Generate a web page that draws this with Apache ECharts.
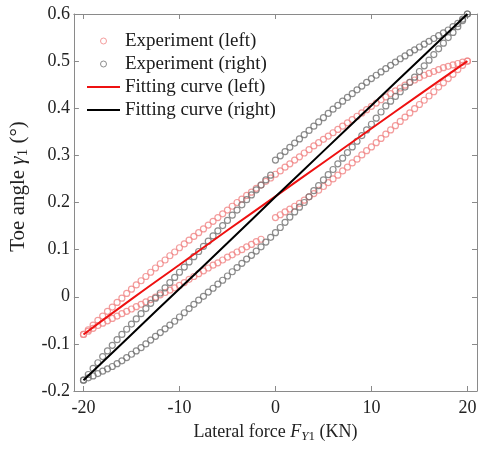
<!DOCTYPE html>
<html>
<head>
<meta charset="utf-8">
<script src="https://cdn.jsdelivr.net/npm/echarts@6/dist/echarts.min.js"></script>
<style>html,body{margin:0;padding:0;background:#fff}#chart{width:480px;height:449px}</style>
</head>
<body>
<div id="chart"></div>
<script>
// Lateral force sample positions (KN)
const forceSteps = [-20,-19.5,-19,-18.5,-18,-17.5,-17,-16.5,-16,-15.5,-15,-14.5,-14,-13.5,-13,-12.5,-12,-11.5,-11,-10.5,-10,-9.5,-9,-8.5,-8,-7.5,-7,-6.5,-6,-5.5,-5,-4.5,-4,-3.5,-3,-2.5,-2,-1.5,-1,-0.5,0,0.5,1,1.5,2,2.5,3,3.5,4,4.5,5,5.5,6,6.5,7,7.5,8,8.5,9,9.5,10,10.5,11,11.5,12,12.5,13,13.5,14,14.5,15,15.5,16,16.5,17,17.5,18,18.5,19,19.5,20];

// Experiment (left): upper (loading) and lower (unloading) branches, toe angle (deg)
const leftUpperY = [-0.08,-0.07,-0.06,-0.05,-0.041,-0.031,-0.022,-0.012,-0.003,0.007,0.016,0.025,0.034,0.043,0.052,0.061,0.07,0.078,0.087,0.095,0.104,0.112,0.12,0.128,0.136,0.144,0.152,0.16,0.168,0.176,0.184,0.192,0.2,0.207,0.215,0.222,0.23,0.237,0.245,0.252,0.26,0.267,0.275,0.282,0.29,0.297,0.305,0.312,0.32,0.327,0.334,0.341,0.348,0.355,0.362,0.369,0.376,0.383,0.39,0.397,0.404,0.411,0.418,0.424,0.431,0.437,0.443,0.449,0.455,0.46,0.465,0.47,0.474,0.478,0.482,0.486,0.489,0.492,0.495,0.498,0.5];
const leftLowerY = [-0.08,-0.073,-0.067,-0.061,-0.056,-0.051,-0.046,-0.041,-0.036,-0.031,-0.026,-0.021,-0.016,-0.011,-0.006,-0.001,0.004,0.009,0.014,0.019,0.024,0.03,0.037,0.043,0.049,0.055,0.061,0.067,0.072,0.078,0.084,0.089,0.095,0.1,0.106,0.111,0.117,0.122,null,null,0.168,0.174,0.18,0.186,0.192,0.198,0.205,0.212,0.219,0.226,0.234,0.242,0.25,0.258,0.267,0.275,0.284,0.292,0.301,0.31,0.318,0.327,0.336,0.345,0.354,0.363,0.372,0.381,0.39,0.399,0.408,0.417,0.426,0.435,0.445,0.454,0.463,0.472,0.482,0.491,0.5];

// Experiment (right): upper (loading) and lower (unloading) branches
const rightUpperY = [-0.177,-0.165,-0.152,-0.14,-0.127,-0.115,-0.103,-0.091,-0.08,-0.069,-0.058,-0.047,-0.036,-0.025,-0.014,-0.003,0.008,0.019,0.03,0.041,0.052,0.063,0.074,0.085,0.096,0.107,0.118,0.129,0.14,0.151,0.162,0.173,0.184,0.195,0.206,0.216,0.227,0.237,0.248,0.258,0.29,0.299,0.308,0.317,0.326,0.335,0.344,0.353,0.362,0.371,0.38,0.389,0.398,0.406,0.415,0.423,0.431,0.439,0.447,0.455,0.463,0.47,0.477,0.484,0.491,0.498,0.505,0.511,0.518,0.524,0.53,0.536,0.542,0.548,0.554,0.56,0.566,0.573,0.58,0.589,0.6];
const rightLowerY = [-0.177,-0.172,-0.168,-0.163,-0.158,-0.153,-0.148,-0.142,-0.136,-0.129,-0.122,-0.115,-0.108,-0.1,-0.092,-0.084,-0.076,-0.068,-0.06,-0.052,-0.043,-0.034,-0.025,-0.016,-0.007,0.001,0.01,0.018,0.027,0.035,0.044,0.053,0.062,0.071,0.08,0.088,0.097,0.106,0.116,0.126,0.136,0.147,0.158,0.169,0.18,0.19,0.2,0.212,0.225,0.236,0.248,0.259,0.27,0.282,0.294,0.306,0.318,0.33,0.342,0.354,0.366,0.379,0.392,0.405,0.415,0.425,0.435,0.445,0.455,0.466,0.478,0.49,0.502,0.514,0.526,0.538,0.55,0.561,0.573,0.586,0.6];

// Fitting curves
const fitForce = [-20,-15,-10,-5,0,5,10,15,20];
const fitLeftY = [-0.08,-0.005,0.068,0.141,0.213,0.285,0.357,0.429,0.5];
const fitRightY = [-0.177,-0.08,0.017,0.114,0.212,0.309,0.406,0.503,0.6];

// Axis ticks
const xTicks = [-20,-10,0,10,20];

const seriesNames = ['Experiment (left)','Experiment (right)','Fitting curve (left)','Fitting curve (right)'];

function pairs(xs, ys) {
  const out = [];
  for (let i = 0; i < xs.length; i++) {
    if (ys[i] !== null && ys[i] !== undefined) out.push([xs[i], ys[i]]);
  }
  return out;
}

const font = "'Liberation Serif','Times New Roman',serif";
const axisGray = '#8a8a8a';
const pink = '#f08585';
const gray = '#707070';
const redLine = '#ee1111';
const lineIcon = 'path://M0,0L33,0L33,2L0,2Z';

const chart = echarts.init(document.getElementById('chart'), null, {renderer: 'canvas'});

const baseX = {
  type: 'value', min: -21, max: 21,
  axisLine: {show: true, onZero: false, lineStyle: {color: axisGray, width: 1}},
  axisTick: {show: true, inside: true, length: 5, customValues: xTicks, lineStyle: {color: axisGray}},
  splitLine: {show: false}
};
const baseY = {
  type: 'value', min: -0.2, max: 0.6, interval: 0.1,
  axisLine: {show: true, onZero: false, lineStyle: {color: axisGray, width: 1}},
  axisTick: {show: true, inside: true, length: 5, lineStyle: {color: axisGray}},
  splitLine: {show: false}
};

const option = {
  animation: false,
  textStyle: {fontFamily: font},
  grid: {left: 73, right: 3, top: 14, bottom: 58, containLabel: false},
  legend: {
    orient: 'vertical', left: 87, top: 31, padding: 0,
    itemWidth: 33, itemHeight: 6, itemGap: 3,
    textStyle: {fontFamily: font, fontSize: 19, color: '#1a1a1a', lineHeight: 20},
    data: [
      {name: seriesNames[0], icon: 'circle', itemStyle: {color: 'rgba(0,0,0,0)', borderColor: pink, borderWidth: 1}},
      {name: seriesNames[1], icon: 'circle', itemStyle: {color: 'rgba(0,0,0,0)', borderColor: gray, borderWidth: 1}},
      {name: seriesNames[2], icon: lineIcon, itemStyle: {color: redLine, borderWidth: 0}},
      {name: seriesNames[3], icon: lineIcon, itemStyle: {color: '#000', borderWidth: 0}}
    ]
  },
  xAxis: [
    Object.assign({}, baseX, {
      position: 'bottom',
      axisLabel: {customValues: xTicks, color: '#222', fontFamily: font, fontSize: 18, margin: 8},
      name: '{n|Lateral force }{i|F}{si|Y}{s|1}{n| (KN)}',
      nameLocation: 'middle', nameGap: 30,
      nameTextStyle: {
        color: '#222', fontFamily: font, fontSize: 18,
        rich: {
          n: {fontFamily: font, fontSize: 18, color: '#222', lineHeight: 22},
          i: {fontFamily: font, fontSize: 18, color: '#222', fontStyle: 'italic', lineHeight: 22},
          si: {fontFamily: font, fontSize: 13, color: '#222', fontStyle: 'italic', lineHeight: 13, verticalAlign: 'bottom'},
          s: {fontFamily: font, fontSize: 13, color: '#222', lineHeight: 13, verticalAlign: 'bottom'}
        }
      }
    }),
    Object.assign({}, baseX, {position: 'top', axisLabel: {show: false}})
  ],
  yAxis: [
    Object.assign({}, baseY, {
      position: 'left',
      axisLabel: {color: '#222', fontFamily: font, fontSize: 18, margin: 4},
      name: '{n|Toe angle }{i|γ}{s|1}{n| (°)}',
      nameLocation: 'middle', nameGap: 39,
      nameTextStyle: {
        color: '#222', fontFamily: font, fontSize: 21, padding: [0, 0, 0, 32],
        rich: {
          n: {fontFamily: font, fontSize: 21, color: '#222', lineHeight: 24},
          i: {fontFamily: font, fontSize: 21, color: '#222', fontStyle: 'italic', lineHeight: 24},
          s: {fontFamily: font, fontSize: 15, color: '#222', lineHeight: 15, verticalAlign: 'bottom'}
        }
      }
    }),
    Object.assign({}, baseY, {position: 'right', axisLabel: {show: false}})
  ],
  series: [
    {
      name: seriesNames[0], type: 'scatter', symbol: 'circle', symbolSize: 6,
      itemStyle: {color: 'rgba(0,0,0,0)', borderColor: pink, borderWidth: 1.2},
      data: pairs(forceSteps, leftUpperY).concat(pairs(forceSteps, leftLowerY))
    },
    {
      name: seriesNames[1], type: 'scatter', symbol: 'circle', symbolSize: 6,
      itemStyle: {color: 'rgba(0,0,0,0)', borderColor: gray, borderWidth: 1.2},
      data: pairs(forceSteps, rightUpperY).concat(pairs(forceSteps, rightLowerY))
    },
    {
      name: seriesNames[2], type: 'line', symbol: 'none', smooth: true,
      lineStyle: {color: redLine, width: 2}, itemStyle: {color: redLine},
      data: pairs(fitForce, fitLeftY)
    },
    {
      name: seriesNames[3], type: 'line', symbol: 'none', smooth: true,
      lineStyle: {color: '#000', width: 2}, itemStyle: {color: '#000'},
      data: pairs(fitForce, fitRightY)
    }
  ]
};
chart.setOption(option);
</script>
</body>
</html>
